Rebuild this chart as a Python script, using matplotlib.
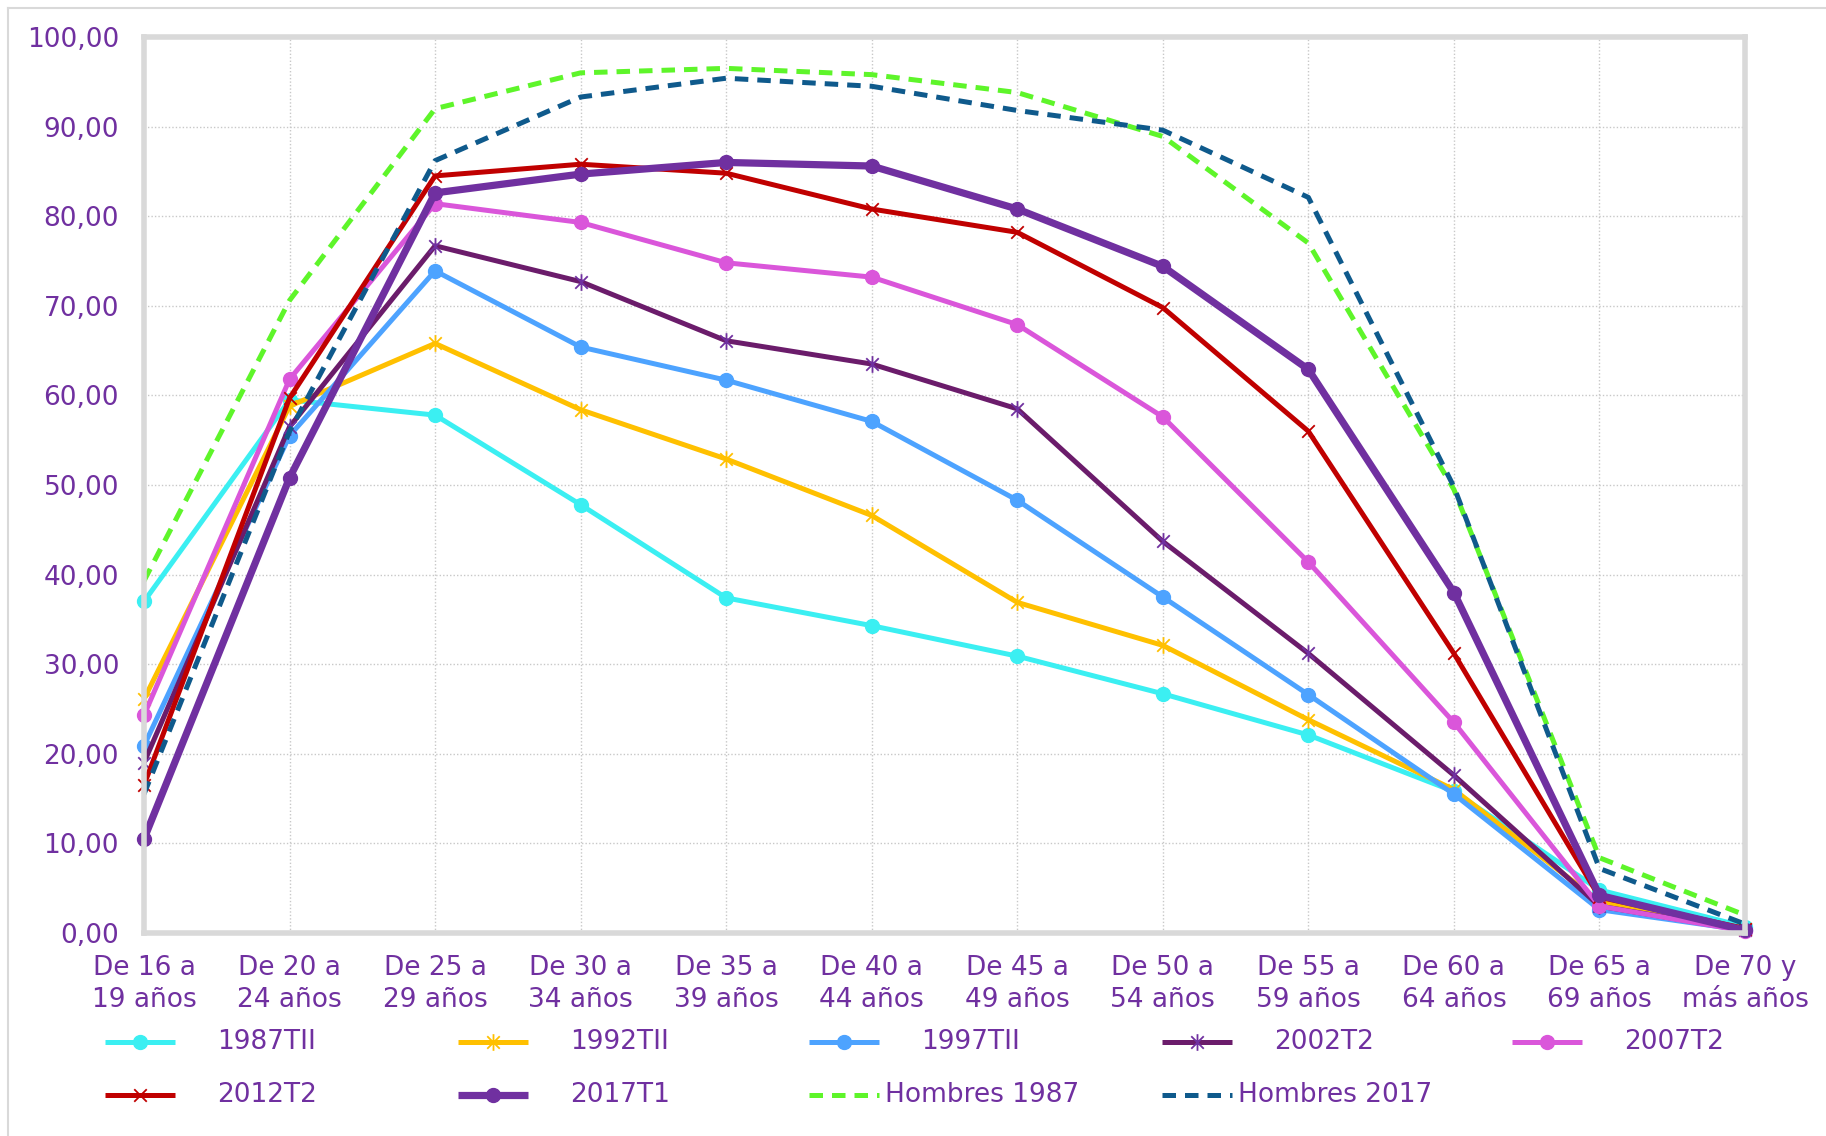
import numpy as np
import matplotlib.pyplot as plt
from matplotlib.lines import Line2D
from matplotlib.path import Path

# categories
age_groups = ["De 16 a\n19 años", "De 20 a\n24 años", "De 25 a\n29 años", "De 30 a\n34 años",
              "De 35 a\n39 años", "De 40 a\n44 años", "De 45 a\n49 años", "De 50 a\n54 años",
              "De 55 a\n59 años", "De 60 a\n64 años", "De 65 a\n69 años", "De 70 y\nmás años"]

# activity rates by series
t1987 = [37.0, 59.5, 57.8, 47.8, 37.4, 34.3, 30.9, 26.7, 22.1, 15.8, 4.8, 0.7]
t1992 = [26.1, 58.8, 65.8, 58.4, 52.9, 46.6, 36.9, 32.1, 23.8, 16.0, 3.5, 0.5]
t1997 = [20.9, 55.5, 73.9, 65.4, 61.7, 57.1, 48.3, 37.5, 26.6, 15.5, 2.6, 0.3]
t2002 = [19.0, 56.5, 76.7, 72.7, 66.1, 63.5, 58.5, 43.7, 31.2, 17.6, 3.0, 0.3]
t2007 = [24.3, 61.8, 81.4, 79.3, 74.8, 73.2, 67.9, 57.6, 41.4, 23.5, 3.0, 0.2]
t2012 = [16.5, 59.7, 84.5, 85.8, 84.8, 80.8, 78.2, 69.8, 56.0, 31.2, 4.0, 0.5]
t2017 = [10.5, 50.8, 82.6, 84.7, 86.0, 85.6, 80.8, 74.4, 62.9, 38.0, 4.2, 0.3]
hombres1987 = [39.3, 70.6, 92.0, 96.0, 96.5, 95.8, 93.8, 88.9, 77.0, 49.5, 8.4, 2.0]
hombres2017 = [15.5, 56.0, 86.2, 93.3, 95.4, 94.5, 91.8, 89.6, 82.1, 49.8, 7.2, 1.0]

purple = "#7030A0"

# excel style star: X plus a vertical bar
star = Path([(-0.75, -0.75), (0.75, 0.75), (-0.75, 0.75), (0.75, -0.75), (0, -1), (0, 1)],
            [Path.MOVETO, Path.LINETO] * 3)
cross = Path([(-1, -1), (1, 1), (-1, 1), (1, -1)], [Path.MOVETO, Path.LINETO] * 2)

dash = (0, (2.7, 1.8))
series = [
    ("1987TII", t1987, dict(color="#3BEFF2", lw=3.6, marker="o", ms=10, mfc="#3BEFF2", mec="#3BEFF2")),
    ("1992TII", t1992, dict(color="#FFC000", lw=3.6, marker=star, ms=12, mec="#FFC000", mew=1.3, fillstyle="none")),
    ("1997TII", t1997, dict(color="#4DA3FF", lw=3.6, marker="o", ms=10, mfc="#4DA3FF", mec="#4DA3FF")),
    ("2002T2", t2002, dict(color="#6B1C6B", lw=3.6, marker=star, ms=12, mec=purple, mew=1.3, fillstyle="none")),
    ("2007T2", t2007, dict(color="#DA56DA", lw=3.6, marker="o", ms=10, mfc="#DA56DA", mec="#DA56DA")),
    ("2012T2", t2012, dict(color="#C00000", lw=3.6, marker=cross, ms=9, mec="#C00000", mew=1.3, fillstyle="none")),
    ("2017T1", t2017, dict(color=purple, lw=5.2, marker="o", ms=10, mfc=purple, mec=purple)),
    ("Hombres 1987", hombres1987, dict(color="#5EF52A", lw=3.6, ls=dash)),
    ("Hombres 2017", hombres2017, dict(color="#0F5A8C", lw=3.6, ls=dash)),
]

W, H = 1826, 1136
fig = plt.figure(figsize=(W / 100, H / 100), dpi=100)
ax = fig.add_axes([144 / W, 1 - 933 / H, (1745 - 144) / W, (933 - 37) / H])

x = np.arange(len(age_groups))
for name, vals, st in series:
    ax.plot(x, vals, clip_on=False, solid_capstyle="butt", **st)

ax.set_xlim(0, len(age_groups) - 1)
ax.set_ylim(0, 100)
ax.set_yticks(np.arange(0, 101, 10))
ax.set_yticklabels([f"{v:.2f}".replace(".", ",") for v in np.arange(0, 101, 10)])
ax.set_xticks(x)
ax.set_xticklabels(age_groups, linespacing=1.3)
ax.tick_params(axis="both", length=0, labelsize=19, colors=purple)
ax.tick_params(axis="x", pad=16)
ax.tick_params(axis="y", pad=18)
ax.grid(True, color="#c8c8c8", linestyle=(0, (1, 1.5)), linewidth=1)
ax.set_axisbelow(True)
for s in ax.spines.values():
    s.set_color("#d9d9d9")
    s.set_linewidth(4)

# outer chart border (top and left)
fig.add_artist(Line2D([8 / W, 1], [1 - 8 / H, 1 - 8 / H], color="#d9d9d9", lw=1.5, transform=fig.transFigure))
fig.add_artist(Line2D([8 / W, 8 / W], [0, 1 - 8 / H], color="#d9d9d9", lw=1.5, transform=fig.transFigure))

# legend laid out like excel: 5 equal columns, 2 rows
col_x = [105, 458, 809, 1162, 1512]
row_y = [1042, 1095]
for i, (name, vals, st) in enumerate(series):
    r, c = divmod(i, 5)
    x0 = col_x[c]
    x1 = x0 + 70
    y = 1 - row_y[r] / H
    h = Line2D([x0 / W, (x0 + x1) / 2 / W, x1 / W], [y, y, y], transform=fig.transFigure,
               markevery=[1], solid_capstyle="butt", **st)
    fig.add_artist(h)
    gap = 6 if st.get("ls") is not None else 42
    fig.text((x1 + gap) / W, y, name, fontsize=19, color=purple, va="center", ha="left")

fig.savefig("out.png", dpi=100)
